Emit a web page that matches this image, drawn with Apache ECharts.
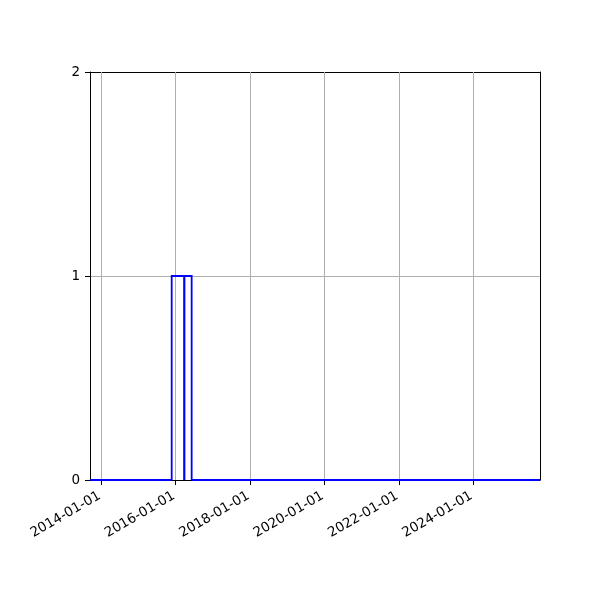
<!DOCTYPE html>
<html>
<head>
<meta charset="utf-8">
<script src="https://cdn.jsdelivr.net/npm/echarts@6/dist/echarts.min.js"></script>
<style>html,body{margin:0;padding:0;background:#fff}#c{width:600px;height:600px}</style>
</head>
<body>
<div id="c"></div>
<script>
// Histogram bin edges (dates) and counts per bin
const binEdges = ['2013-09-12', '2015-11-23', '2016-03-26', '2016-06-06', '2025-10-17'];
const binCounts = [0, 1, 1, 0];
const xTickDates = ['2014-01-01', '2016-01-01', '2018-01-01', '2020-01-01', '2022-01-01', '2024-01-01'];
const yTicks = [0, 1, 2];

const ts = s => Date.parse(s + 'T00:00:00Z');
const binData = binCounts.map((c, i) => [ts(binEdges[i]), ts(binEdges[i + 1]), c]);
const xTickVals = xTickDates.map(ts);
const pad = n => String(n).padStart(2, '0');
const fmt = v => { const d = new Date(v); return d.getUTCFullYear() + '-' + pad(d.getUTCMonth() + 1) + '-' + pad(d.getUTCDate()); };
const xMin = ts(binEdges[0]), xMax = ts(binEdges[binEdges.length - 1]);

const spine = { show: true, onZero: false, lineStyle: { color: '#000', width: 1 } };

const chart = echarts.init(document.getElementById('c'), null, { renderer: 'canvas' });
chart.setOption({
  animation: false,
  backgroundColor: '#fff',
  grid: { left: 90, right: 60, top: 72, bottom: 120, show: false },
  xAxis: [{
    type: 'value',
    min: xMin,
    max: xMax,
    axisLine: spine,
    axisTick: { show: true, customValues: xTickVals, length: 5, lineStyle: { color: '#000' } },
    axisLabel: { customValues: xTickVals, rotate: 30, formatter: v => fmt(v), color: '#000', fontSize: 13.5, fontFamily: 'DejaVu Sans', margin: 14, padding: [0, 2, 0, 0] },
    splitLine: { show: false },
    minorTick: { show: false }
  }, {
    type: 'value', position: 'top', min: xMin, max: xMax,
    axisLine: spine, axisTick: { show: false }, axisLabel: { show: false }, splitLine: { show: false }
  }],
  yAxis: [{
    type: 'value',
    min: yTicks[0],
    max: yTicks[yTicks.length - 1],
    interval: 1,
    axisLine: spine,
    axisTick: { show: true, inside: false, length: 5, lineStyle: { color: '#000' } },
    axisLabel: { color: '#000', fontSize: 13.5, fontFamily: 'DejaVu Sans', margin: 10 },
    splitLine: { show: true, lineStyle: { color: '#b0b0b0', width: 1 } }
  }, {
    type: 'value', position: 'right', min: yTicks[0], max: yTicks[yTicks.length - 1], interval: 1,
    axisLine: spine, axisTick: { show: false }, axisLabel: { show: false }, splitLine: { show: false }
  }],
  series: [{
    type: 'custom',
    data: binData,
    encode: { x: [0, 1], y: 2 },
    clip: false,
    z: 5,
    renderItem: (params, api) => {
      const x0 = api.value(0), x1 = api.value(1), c = api.value(2);
      const p0 = api.coord([x0, 0]);
      const p1 = api.coord([x1, c]);
      return {
        type: 'polyline',
        shape: { points: [[p0[0], p0[1]], [p0[0], p1[1]], [p1[0], p1[1]], [p1[0], p0[1]]] },
        style: { stroke: '#0000ff', lineWidth: 1.8, fill: null }
      };
    },
    markLine: {
      silent: true,
      symbol: 'none',
      label: { show: false },
      lineStyle: { color: '#b0b0b0', width: 1, type: 'solid' },
      z: 1,
      data: xTickVals.map(v => ({ xAxis: v }))
    }
  }]
});
</script>
</body>
</html>
